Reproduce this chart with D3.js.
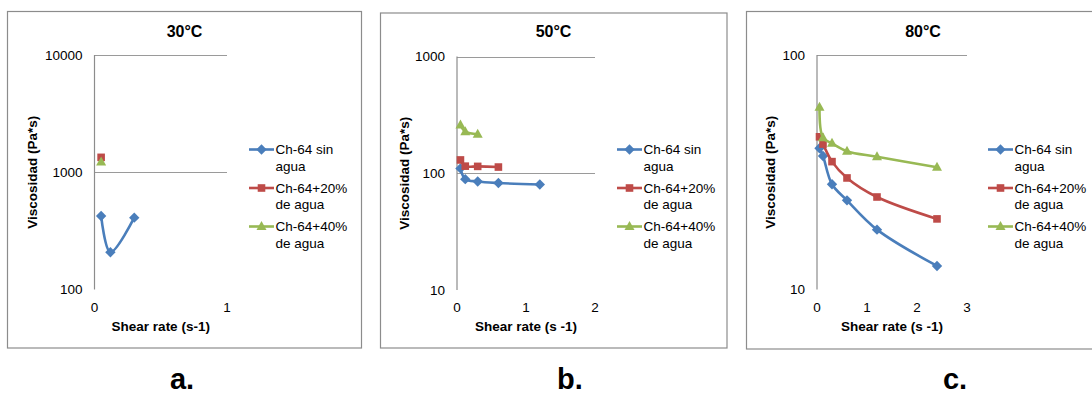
<!DOCTYPE html>
<html>
<head>
<meta charset="utf-8">
<script src="https://cdn.jsdelivr.net/npm/d3@7"></script>
<style>
  body { margin: 0; background: #fff; }
  text { font-family: "Liberation Sans", Arial, sans-serif; fill: #000; }
</style>
</head>
<body>
<svg id="chart" width="1092" height="396"></svg>
<script>
// Chart data
const panelTitles = ["30°C", "50°C", "80°C"];
const panelLetters = ["a.", "b.", "c."];
const seriesNames = [["Ch-64 sin", "agua"], ["Ch-64+20%", "de agua"], ["Ch-64+40%", "de agua"]];
const xTitles = ["Shear rate (s-1)", "Shear rate (s -1)", "Shear rate (s -1)"];
const yDomains = [[100, 10000], [10, 1000], [10, 100]];
const xMax = [1, 2, 3];

// shear rate (s-1)
const shearRates = [0.05, 0.12, 0.3, 0.6, 1.2, 2.4];

// viscosity (Pa*s) at 30°C
const visc30Sin = [424, 208, 410];
const visc30Agua20 = [1340];
const visc30Agua40 = [1220];

// viscosity (Pa*s) at 50°C
const visc50Sin = [110, 89, 85, 82.5, 80];
const visc50Agua20 = [130, 115, 114.5, 113];
const visc50Agua40 = [259, 227, 216];

// viscosity (Pa*s) at 80°C
const visc80Sin = [40, 37.1, 28.1, 24.0, 18.0, 12.6];
const visc80Agua20 = [44.8, 41.7, 35.1, 29.9, 24.8, 20.0];
const visc80Agua40 = [59.8, 44.4, 42.0, 38.9, 36.8, 33.2];

const panelData = [
  [visc30Sin, visc30Agua20, visc30Agua40],
  [visc50Sin, visc50Agua20, visc50Agua40],
  [visc80Sin, visc80Agua20, visc80Agua40]
];

const colors = ["#4a7ebb", "#be4b48", "#98b954"];
const markers = ["diamond", "square", "triangle"];

// layout of each panel
const layouts = [
  { box: [7.5, 11.5, 354, 336.5], plot: [94.5, 55, 227, 289.5], yLab: 32, title: 184.5, leg: 249, letter: 182 },
  { box: [380.5, 13, 346.5, 335], plot: [457, 56.5, 595, 290], yLab: 404, title: 553.5, leg: 617, letter: 570 },
  { box: [746.5, 11.5, 360, 337.5], plot: [817, 55, 967, 289.5], yLab: 770, title: 923, leg: 988, letter: 955 }
];

const svg = d3.select("#chart");

function markerPath(type) {
  if (type === "diamond") return "M0,-5.2L5.2,0L0,5.2L-5.2,0Z";
  if (type === "square") return "M-3.8,-3.8H3.8V3.8H-3.8Z";
  return "M0,-5.5L5,3.5H-5Z";
}

layouts.forEach((L, p) => {
  const g = svg.append("g");

  // outer frame
  g.append("rect")
    .attr("x", L.box[0]).attr("y", L.box[1])
    .attr("width", L.box[2]).attr("height", L.box[3])
    .attr("fill", "none").attr("stroke", "#8c8c8c").attr("stroke-width", 1.2);

  const x = d3.scaleLinear().domain([0, xMax[p]]).range([L.plot[0], L.plot[2]]);
  const y = d3.scaleLog().domain(yDomains[p]).range([L.plot[3], L.plot[1]]);

  const yTicks = y.ticks().filter(v => Math.abs(Math.log10(v) - Math.round(Math.log10(v))) < 1e-9);

  // horizontal gridlines (no line at the bottom)
  g.selectAll(".grid")
    .data(yTicks.filter(v => v > yDomains[p][0]))
    .enter().append("line")
    .attr("x1", L.plot[0]).attr("x2", L.plot[2])
    .attr("y1", d => Math.round(y(d)) + 0.5).attr("y2", d => Math.round(y(d)) + 0.5)
    .attr("stroke", "#9a9a9a").attr("stroke-width", 1);

  // y axis line
  g.append("line")
    .attr("x1", L.plot[0]).attr("x2", L.plot[0])
    .attr("y1", L.plot[1]).attr("y2", L.plot[3])
    .attr("stroke", "#8c8c8c").attr("stroke-width", 1.2);

  // y tick labels
  g.selectAll(".ytick")
    .data(yTicks)
    .enter().append("text")
    .attr("x", L.plot[0] - 12)
    .attr("y", d => y(d) + 4.8)
    .attr("text-anchor", "end")
    .style("font-size", "13.5px")
    .text(d => d);

  // x tick labels
  g.selectAll(".xtick")
    .data(x.ticks(xMax[p]).filter(v => Number.isInteger(v)))
    .enter().append("text")
    .attr("x", d => x(d))
    .attr("y", L.plot[3] + 22)
    .attr("text-anchor", "middle")
    .style("font-size", "13.5px")
    .text(d => d);

  // titles
  g.append("text")
    .attr("x", L.title).attr("y", 37)
    .attr("text-anchor", "middle")
    .style("font-size", "16px").style("font-weight", "bold")
    .text(panelTitles[p]);

  g.append("text")
    .attr("x", (L.plot[0] + L.plot[2]) / 2).attr("y", 331)
    .attr("text-anchor", "middle")
    .style("font-size", "13.5px").style("font-weight", "bold")
    .text(xTitles[p]);

  g.append("text")
    .attr("transform", `translate(${L.yLab + 5},${(L.plot[1] + L.plot[3]) / 2}) rotate(-90)`)
    .attr("text-anchor", "middle")
    .style("font-size", "13.5px").style("font-weight", "bold")
    .text("Viscosidad (Pa*s)");

  // series
  const line = d3.line()
    .x((d, i) => x(shearRates[i]))
    .y(d => y(d))
    .curve(d3.curveCatmullRom.alpha(0.5));

  panelData[p].forEach((vals, s) => {
    if (vals.length > 1) {
      g.append("path")
        .datum(vals)
        .attr("d", line)
        .attr("fill", "none")
        .attr("stroke", colors[s])
        .attr("stroke-width", 2.6);
    }
    g.selectAll(".m" + s)
      .data(vals)
      .enter().append("path")
      .attr("transform", (d, i) => `translate(${x(shearRates[i])},${y(d)})`)
      .attr("d", markerPath(markers[s]))
      .attr("fill", colors[s]);
  });

  // legend
  seriesNames.forEach((name, s) => {
    const ly = 149.5 + s * 38.5;
    g.append("line")
      .attr("x1", L.leg).attr("x2", L.leg + 25)
      .attr("y1", ly).attr("y2", ly)
      .attr("stroke", colors[s]).attr("stroke-width", 2.6);
    g.append("path")
      .attr("transform", `translate(${L.leg + 12.5},${ly})`)
      .attr("d", markerPath(markers[s]))
      .attr("fill", colors[s]);
    name.forEach((t, k) => {
      g.append("text")
        .attr("x", L.leg + 26.5).attr("y", ly + 4.8 + k * 16.5)
        .style("font-size", "13.5px")
        .text(t);
    });
  });

  // panel letter
  g.append("text")
    .attr("x", L.letter).attr("y", 389)
    .attr("text-anchor", "middle")
    .style("font-size", "29px").style("font-weight", "bold")
    .text(panelLetters[p]);
});
</script>
</body>
</html>
